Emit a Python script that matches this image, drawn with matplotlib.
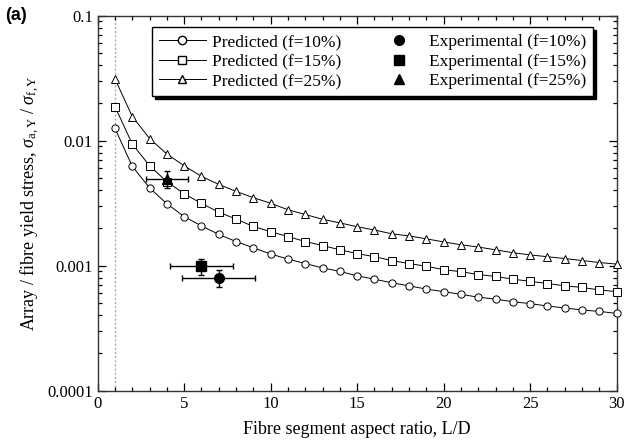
"""Predicted vs experimental array yield stress against fibre segment aspect ratio."""

import matplotlib

matplotlib.use("Agg")

import matplotlib.pyplot as plt
from matplotlib.lines import Line2D
from matplotlib.ticker import FixedLocator, LogLocator, NullFormatter

plt.rcParams["font.family"] = ["Liberation Serif", "DejaVu Serif"]
plt.rcParams["mathtext.fontset"] = "custom"
plt.rcParams["mathtext.rm"] = "Liberation Serif"
plt.rcParams["mathtext.it"] = "Liberation Serif:italic"

aspect_ratio = list(range(1, 31))

pred_f10 = [0.01253, 0.00623, 0.00419, 0.00313, 0.00247, 0.00208, 0.00178, 0.00156,
            0.00139, 0.00124, 0.00113, 0.00104, 0.00096, 0.00090, 0.00083, 0.00078,
            0.00073, 0.00069, 0.00065, 0.00062, 0.00059, 0.00056, 0.00054, 0.000515,
            0.000497, 0.000476, 0.000459, 0.000442, 0.000431, 0.000415]
pred_f15 = [0.0187, 0.0094, 0.0063, 0.0047, 0.00376, 0.00315, 0.00268, 0.00236,
            0.00206, 0.00187, 0.00171, 0.00156, 0.00145, 0.00134, 0.00125, 0.00118,
            0.00110, 0.00104, 0.00099, 0.00093, 0.000895, 0.00085, 0.00082, 0.00078,
            0.00075, 0.00072, 0.00069, 0.00067, 0.00064, 0.00062]
pred_f25 = [0.0312, 0.0156, 0.0104, 0.00782, 0.0063, 0.00518, 0.00447, 0.00393,
            0.0035, 0.00316, 0.0028, 0.00257, 0.00235, 0.0022, 0.00205, 0.00193,
            0.0018, 0.00173, 0.00164, 0.00155, 0.00147, 0.00141, 0.00134, 0.00127,
            0.00122, 0.00118, 0.00114, 0.0011, 0.00106, 0.00103]

# experimental points: f=10%, f=15%, f=25%
exp_x = [7.0, 6.0, 4.0]
exp_y = [0.00080, 0.00100, 0.00490]
exp_xerr = [2.1, 1.8, 1.2]
exp_yerr_lo = [0.00012, 0.00015, 0.00070]
exp_yerr_hi = [0.00012, 0.00014, 0.00080]
exp_markers = ["o", "s", "^"]

fig = plt.figure(figsize=(6.37, 4.46), dpi=100)
ax = fig.add_axes([0.1534, 0.124, 0.8146, 0.8408])

ax.axvline(1, color="#aaaaaa", lw=1.0, ls=(0, (1.5, 1.5)), zorder=0)

for vals, mk in zip([pred_f10, pred_f15, pred_f25], ["o", "s", "^"]):
    ax.plot(aspect_ratio, vals, color="black", lw=0.7, marker=mk, ms=5.2 if mk != "^" else 5.6,
            mfc="white", mec="black", mew=0.7, clip_on=False, zorder=3)

for x, y, xe, ylo, yhi, mk in zip(exp_x, exp_y, exp_xerr, exp_yerr_lo, exp_yerr_hi, exp_markers):
    ax.errorbar([x], [y], xerr=[[xe], [xe]], yerr=[[ylo], [yhi]], fmt=mk, color="black",
                ms=7 if mk != "^" else 7.5, elinewidth=1.0, capsize=2.5, capthick=1.0, zorder=4)

ax.set_xlim(0, 30)
ax.set_yscale("log")
ax.set_ylim(0.0001, 0.1)
ax.xaxis.set_major_locator(FixedLocator([0, 5, 10, 15, 20, 25, 30]))
ax.xaxis.set_minor_locator(FixedLocator(range(0, 31)))
ax.yaxis.set_major_locator(FixedLocator([0.0001, 0.001, 0.01, 0.1]))
ax.yaxis.set_minor_locator(LogLocator(base=10, subs=range(2, 10)))
ax.yaxis.set_minor_formatter(NullFormatter())
ax.set_yticklabels(["0.0001", "0.001", "0.01", "0.1"])

ax.tick_params(which="both", direction="in", top=True, right=True, labelsize=12, width=0.9)
ax.tick_params(which="major", length=6)
ax.tick_params(which="minor", length=3)
ax.tick_params(axis="x", pad=4)
for sp in ax.spines.values():
    sp.set_linewidth(1.0)
    sp.set_color("#333333")

ax.set_xlabel("Fibre segment aspect ratio, L/D", fontsize=13, labelpad=6)
ax.set_ylabel(r"Array / fibre yield stress, $\sigma_{\rm a,Y}$ / $\sigma_{\rm f,Y}$", fontsize=13, labelpad=4)

fig.text(0.008, 0.985, "(a)", fontsize=13, fontweight="bold", family="Liberation Sans", va="top")

handles = [
    Line2D([], [], color="black", lw=0.7, marker="o", ms=6, mfc="white", mec="black"),
    Line2D([], [], color="black", lw=0.7, marker="s", ms=6, mfc="white", mec="black"),
    Line2D([], [], color="black", lw=0.7, marker="^", ms=6, mfc="white", mec="black"),
    Line2D([], [], ls="none", marker="o", ms=7, color="black"),
    Line2D([], [], ls="none", marker="s", ms=7, color="black"),
    Line2D([], [], ls="none", marker="^", ms=7, color="black"),
]
labels = ["Predicted (f=10%)", "Predicted (f=15%)", "Predicted (f=25%)",
          "Experimental (f=10%)", "Experimental (f=15%)", "Experimental (f=25%)"]
leg = ax.legend(handles, labels, ncol=2, loc="upper right", bbox_to_anchor=(0.954, 0.970),
                borderaxespad=0, fontsize=12.5, frameon=True, fancybox=False, edgecolor="black",
                shadow={"color": "black", "alpha": 1.0}, handlelength=2.7, handletextpad=0.35,
                columnspacing=2.0, labelspacing=0.2, borderpad=0.4)
leg.get_frame().set_linewidth(1.0)

fig.savefig("out.png", dpi=100)
